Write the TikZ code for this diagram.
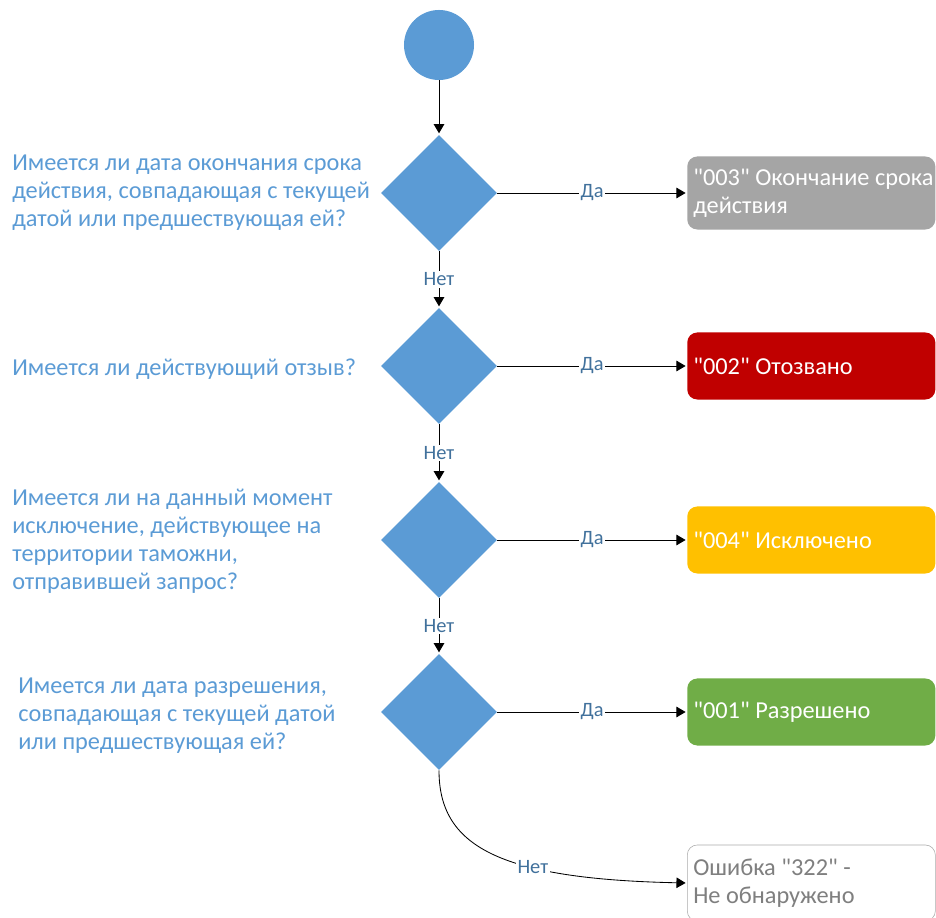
\documentclass[tikz,border=0pt]{standalone}
\usepackage{fontspec}
\setmainfont{Carlito}[Ligatures=TeXOff]
\usepackage{tikz}
\usetikzlibrary{shapes.geometric,arrows.meta}

\definecolor{shapeblue}{RGB}{91,155,213}
\definecolor{labelblue}{RGB}{65,113,156}
\definecolor{boxgray}{RGB}{165,165,165}
\definecolor{boxred}{RGB}{192,0,0}
\definecolor{boxyellow}{RGB}{255,192,0}
\definecolor{boxgreen}{RGB}{112,173,71}
\definecolor{errgray}{RGB}{127,127,127}
\definecolor{errline}{RGB}{170,170,170}

\begin{document}
\begin{tikzpicture}[x=0.025cm, y=-0.025cm, shorten >=1pt,
		start_style/.style={circle,fill=shapeblue,minimum size=1.75cm,inner sep=0pt},
		diamond_style/.style={diamond,fill=shapeblue,minimum width=2.9cm,minimum height=2.9cm,inner sep=0pt},
		question_style/.style={anchor=west,align=left,inner sep=0pt,text=shapeblue,font=\fontsize{17.3}{19.9}\selectfont,
			execute at begin node={\spaceskip=0pt\xspaceskip=0pt}},
		box_style/.style={anchor=west,rounded corners=0.25cm,text width=5.9cm,inner xsep=0.15cm,align=left,text=white,font=\fontsize{17.3}{19.9}\selectfont,
			execute at begin node={\spaceskip=0pt\xspaceskip=0pt}},
		label_style/.style={fill=white,inner sep=1pt,text=labelblue,font=\fontsize{14.5}{16}\selectfont},
		edge_style/.style={draw=black,line width=0.6pt,-{Triangle[length=6.5pt,width=7.5pt]}}]

	\useasboundingbox (0,0) rectangle (936,918);
	\clip (0,0) rectangle (936,918);

	\node[start_style] (s0) at (439,45) {};
	\node[diamond_style] (d1) at (439,193) {};
	\node[diamond_style] (d2) at (439,366) {};
	\node[diamond_style] (d3) at (439,540) {};
	\node[diamond_style] (d4) at (439,712) {};

	\node[question_style] (q1) at (12,193) {Имеется ли дата окончания срока\\действия, совпадающая с текущей\\датой или предшествующая ей?};
	\node[question_style] (q2) at (12,369) {Имеется ли действующий отзыв?};
	\node[question_style] (q3) at (12,541) {Имеется ли на данный момент\\исключение, действующее на\\территории таможни,\\отправившей запрос?};
	\node[question_style] (q4) at (18,716) {Имеется ли дата разрешения,\\совпадающая с текущей датой\\или предшествующая ей?};

	\node[box_style,fill=boxgray,minimum height=1.825cm] (b1) at (687,193) {\mbox{"003" Окончание срока}\\действия};
	\node[box_style,fill=boxred,minimum height=1.675cm] (b2) at (687,366) {"002" Отозвано};
	\node[box_style,fill=boxyellow,minimum height=1.675cm] (b3) at (687,540) {"004" Исключено};
	\node[box_style,fill=boxgreen,minimum height=1.675cm] (b4) at (687,712) {"001" Разрешено};
	\node[box_style,draw=errline,fill=white,text=errgray,minimum height=1.9cm] (b5) at (687,883) {Ошибка "322" -\\Не обнаружено};

	\draw[edge_style] (s0) -- (d1);
	\draw[edge_style] (d1.south) -- node[label_style]{Нет} (d2.north);
	\draw[edge_style] (d2.south) -- node[label_style]{Нет} (d3.north);
	\draw[edge_style] (d3.south) -- node[label_style]{Нет} (d4.north);
	\draw[edge_style] (d1.east) -- node[label_style]{Да} (b1.west);
	\draw[edge_style] (d2.east) -- node[label_style]{Да} (b2.west);
	\draw[edge_style] (d3.east) -- node[label_style]{Да} (b3.west);
	\draw[edge_style] (d4.east) -- node[label_style]{Да} (b4.west);
	\draw[edge_style] (d4.south) .. controls +(0,75) and +(-190,-4) .. node[label_style,pos=0.65]{Нет} (b5.west);
\end{tikzpicture}
\end{document}
